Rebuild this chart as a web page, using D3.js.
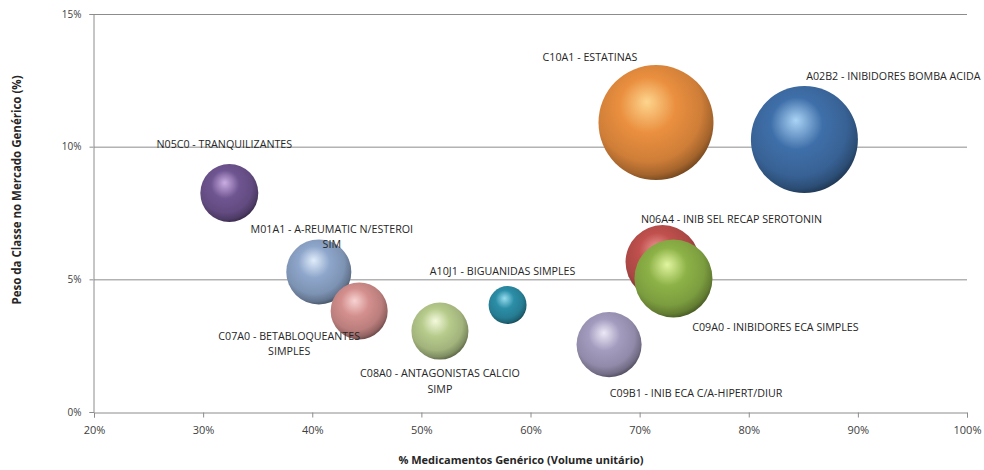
<!DOCTYPE html>
<html>
<head>
<meta charset="utf-8">
<script src="https://cdn.jsdelivr.net/npm/d3@7"></script>
<style>
  body { margin: 0; background: #fff; }
  svg { display: block; font-family: "Open Sans", "Noto Sans", sans-serif; }
</style>
</head>
<body>
<svg id="chart" width="984" height="470"></svg>
<script>
// ATC classes, share of generics (volume), weight in generic market, bubble size
const classes = [
  'N05C0 - TRANQUILIZANTES',
  'M01A1 - A-REUMATIC N/ESTEROI SIM',
  'C07A0 - BETABLOQUEANTES SIMPLES',
  'C08A0 - ANTAGONISTAS CALCIO SIMP',
  'A10J1 - BIGUANIDAS SIMPLES',
  'C09B1 - INIB ECA C/A-HIPERT/DIUR',
  'N06A4 - INIB SEL RECAP SEROTONIN',
  'C09A0 - INIBIDORES ECA SIMPLES',
  'C10A1 - ESTATINAS',
  'A02B2 - INIBIDORES BOMBA ACIDA'
];
const labelLines = [
  ['N05C0 - TRANQUILIZANTES'],
  ['M01A1 - A-REUMATIC N/ESTEROI', 'SIM'],
  ['C07A0 - BETABLOQUEANTES', 'SIMPLES'],
  ['C08A0 - ANTAGONISTAS CALCIO', 'SIMP'],
  ['A10J1 - BIGUANIDAS SIMPLES'],
  ['C09B1 - INIB ECA C/A-HIPERT/DIUR'],
  ['N06A4 - INIB SEL RECAP SEROTONIN'],
  ['C09A0 - INIBIDORES ECA SIMPLES'],
  ['C10A1 - ESTATINAS'],
  ['A02B2 - INIBIDORES BOMBA ACIDA']
];
const genericShare = [32.4, 40.6, 44.3, 51.7, 57.9, 67.2, 72.1, 73.1, 71.5, 85.1];
const marketWeight = [8.25, 5.28, 3.81, 3.05, 4.03, 2.54, 5.65, 5.03, 10.91, 10.27];
const bubbleSize = [25.4, 32.0, 24.6, 24.6, 10.9, 32.0, 41.4, 46.0, 100, 86.6];

const xTicks = [20, 30, 40, 50, 60, 70, 80, 90, 100];
const yTicks = [0, 5, 10, 15];

// styling / layout (not data)
const baseColors = ['#6f5591', '#8ea6cb', '#d38f8d', '#b7cb8c', '#2b8ea7',
  '#a49cbf', '#c0504d', '#8db247', '#ea8f3f', '#3f6fa9'];
const lightColors = ['#c9ade2', '#e0ecfa', '#f7d3d2', '#f3f9dc', '#97dcee',
  '#ece8f6', '#ec9997', '#e2f5a0', '#fdd58e', '#aad3f5'];
const labelOffsets = [[-5, -49], [13, -43], [-70, 25], [0, 42], [-5, -34],
  [87, 48], [69, -43], [102, 48], [-66, -66], [89, -64]];

const width = 984, height = 470;
const margin = {top: 14, right: 17, bottom: 58, left: 94};
const svg = d3.select('#chart');

const x = d3.scaleLinear().domain([20, 100]).range([margin.left, width - margin.right]);
const y = d3.scaleLinear().domain([0, 15]).range([height - margin.bottom, margin.top]);
const r = d3.scaleSqrt().domain([0, d3.max(bubbleSize)]).range([0, 57.5]);

const data = classes.map(function(c, i) {
  return {name: c, lines: labelLines[i], x: genericShare[i], y: marketWeight[i],
    size: bubbleSize[i], base: baseColors[i], light: lightColors[i],
    off: labelOffsets[i]};
});

// gradients for the glossy balls
const defs = svg.append('defs');
data.forEach(function(d, i) {
  const g = defs.append('radialGradient')
    .attr('id', 'ball' + i)
    .attr('cx', '0.44').attr('cy', '0.4').attr('r', '0.64')
    .attr('fx', '0.42').attr('fy', '0.32');
  g.append('stop').attr('offset', '0%').attr('stop-color', d.light);
  g.append('stop').attr('offset', '38%').attr('stop-color', d.base);
  g.append('stop').attr('offset', '72%')
    .attr('stop-color', d3.color(d.base).darker(0.35));
  g.append('stop').attr('offset', '88%')
    .attr('stop-color', d3.color(d.base).darker(1));
  g.append('stop').attr('offset', '100%')
    .attr('stop-color', d3.color(d.base).darker(2.4));
});

// grid lines
svg.append('g')
  .selectAll('line')
  .data(yTicks.filter(function(t) { return t > 0; }))
  .enter()
  .append('line')
  .attr('x1', x(20)).attr('x2', x(100))
  .attr('y1', function(d) { return y(d) + 0.5; })
  .attr('y2', function(d) { return y(d) + 0.5; })
  .attr('stroke', '#8c8c8c').attr('stroke-width', 1);

// axes
const fmt = function(d) { return d + '%'; };
const xAxis = svg.append('g')
  .attr('transform', 'translate(0,' + (y(0) + 0.5) + ')')
  .call(d3.axisBottom(x).tickValues(xTicks).tickFormat(fmt).tickSize(5).tickPadding(9));
const yAxis = svg.append('g')
  .attr('transform', 'translate(' + (x(20) - 0.5) + ',0)')
  .call(d3.axisLeft(y).tickValues(yTicks).tickFormat(fmt).tickSize(4).tickPadding(8));

[xAxis, yAxis].forEach(function(a) {
  a.select('.domain').attr('stroke', '#8c8c8c');
  a.selectAll('.tick line').attr('stroke', '#8c8c8c');
  a.selectAll('.tick text').attr('fill', '#404040')
    .style('font-family', '"Open Sans", sans-serif');
});
xAxis.selectAll('.tick text').style('font-size', '11px');
yAxis.selectAll('.tick text').style('font-size', '10px');

// bubbles
svg.append('g')
  .selectAll('circle')
  .data(data)
  .enter()
  .append('circle')
  .attr('cx', function(d) { return x(d.x); })
  .attr('cy', function(d) { return y(d.y); })
  .attr('r', function(d) { return r(d.size); })
  .attr('fill', function(d, i) { return 'url(#ball' + i + ')'; });

// labels
const labels = svg.append('g')
  .selectAll('text')
  .data(data)
  .enter()
  .append('text')
  .attr('text-anchor', 'middle')
  .attr('fill', '#262626')
  .style('font-size', '10.7px')
  .attr('transform', function(d) {
    return 'translate(' + (x(d.x) + d.off[0]) + ',' + (y(d.y) + d.off[1] + 4) + ')';
  });
labels.selectAll('tspan')
  .data(function(d) { return d.lines; })
  .enter()
  .append('tspan')
  .attr('x', 0)
  .attr('dy', function(d, i) { return i === 0 ? 0 : 15.5; })
  .text(function(d) { return d; });

// axis titles
svg.append('text')
  .attr('x', 521)
  .attr('y', 464)
  .attr('text-anchor', 'middle')
  .attr('fill', '#262626')
  .style('font-size', '11px')
  .style('font-weight', 'bold')
  .text('% Medicamentos Genérico (Volume unitário)');

svg.append('text')
  .attr('transform', 'translate(21,190) rotate(-90)')
  .attr('text-anchor', 'middle')
  .attr('fill', '#262626')
  .style('font-size', '11.5px')
  .style('font-weight', 'bold')
  .text('Peso da Classe no Mercado Genérico (%)');
</script>
</body>
</html>
